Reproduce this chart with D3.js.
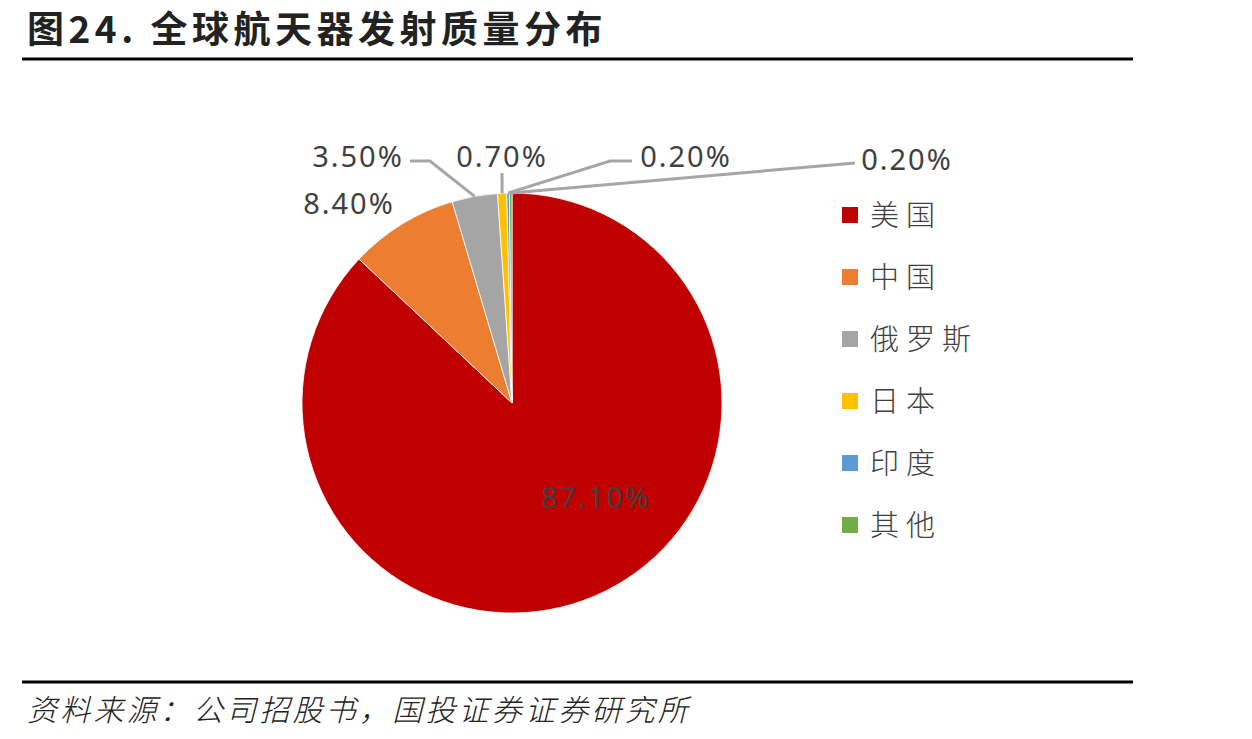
<!DOCTYPE html>
<html><head><meta charset="utf-8">
<script src="https://cdn.jsdelivr.net/npm/d3@7"></script>
<style>
body{margin:0;background:#fff;}
svg{display:block;}
</style></head>
<body>
<script>
const categories = ["美国","中国","俄罗斯","日本","印度","其他"];
const values = [87.1, 8.4, 3.5, 0.7, 0.2, 0.2];
const labels = ["87.10%","8.40%","3.50%","0.70%","0.20%","0.20%"];
const colors = ["#C00000","#ED7D31","#A5A5A5","#FFC000","#5B9BD5","#70AD47"];
const title = "图24. 全球航天器发射质量分布";
const source = "资料来源：公司招股书，国投证券证券研究所";

const W = 1252, H = 739;
const svg = d3.select("body").append("svg").attr("width", W).attr("height", H);
const cjk = "'Noto Sans CJK SC','Noto Sans',sans-serif";

// title
svg.append("text").attr("x", 27).attr("y", 43).text(title)
  .attr("font-family", cjk).attr("font-weight", "bold").attr("font-size", 37)
  .attr("letter-spacing", 4.5).attr("fill", "#222");
svg.append("line").attr("x1", 22).attr("x2", 1133).attr("y1", 59).attr("y2", 59)
  .attr("stroke", "#000").attr("stroke-width", 3);
svg.append("line").attr("x1", 22).attr("x2", 1133).attr("y1", 682).attr("y2", 682)
  .attr("stroke", "#000").attr("stroke-width", 3);
svg.append("text").attr("x", 27).attr("y", 721).text(source)
  .attr("font-family", cjk).attr("font-style", "italic").attr("font-weight", 300)
  .attr("font-size", 30).attr("letter-spacing", 3.2).attr("fill", "#222");

const cx = 512, cy = 403, R = 210;
const pie = d3.pie().sort(null).value(d => d)(values);
const arc = d3.arc().innerRadius(0).outerRadius(R);
const g = svg.append("g").attr("transform", `translate(${cx},${cy})`);
g.selectAll("path").data(pie).join("path")
  .attr("d", arc).attr("fill", (d, i) => colors[i])
  .attr("stroke", "#fff").attr("stroke-width", 0.8);

// label positions (absolute)
const labelPos = [
  {x: 596, y: 508, anchor: "middle"},
  {x: 349, y: 214, anchor: "middle"},
  {x: 358, y: 167, anchor: "middle"},
  {x: 502, y: 167, anchor: "middle"},
  {x: 686, y: 167, anchor: "middle"},
  {x: 907, y: 170, anchor: "middle"}
];
// leader lines for small slices
const leaderKnee = [null, null, [430, 161], [502, 173], [610, 161], [855, 163]];
const leaderEnd = [null, null, [410, 161], [502, 173], [632, 161], [855, 163]];
pie.forEach((d, i) => {
  if (!leaderKnee[i]) return;
  const a = (d.startAngle + d.endAngle) / 2;
  const sx = cx + Math.sin(a) * R, sy = cy - Math.cos(a) * R;
  svg.append("polyline")
    .attr("points", [[sx, sy], leaderKnee[i], leaderEnd[i]].map(p => p.join(",")).join(" "))
    .attr("fill", "none").attr("stroke", "#A6A6A6").attr("stroke-width", 3);
});
labels.forEach((t, i) => {
  svg.append("text").attr("x", labelPos[i].x).attr("y", labelPos[i].y)
    .attr("text-anchor", labelPos[i].anchor).text(t)
    .attr("font-family", "'Noto Sans',sans-serif").attr("font-size", 29)
    .attr("letter-spacing", 2).attr("fill", "#404040");
});

// legend
const leg = svg.append("g");
categories.forEach((c, i) => {
  const y = 215 + i * 62;
  leg.append("rect").attr("x", 842).attr("y", y - 8).attr("width", 16).attr("height", 16).attr("fill", colors[i]);
  leg.append("text").attr("x", 870).attr("y", y + 11).text(c)
    .attr("font-family", cjk).attr("font-size", 29).attr("font-weight", 300)
    .attr("letter-spacing", 7).attr("fill", "#404040");
});
</script>
</body></html>
